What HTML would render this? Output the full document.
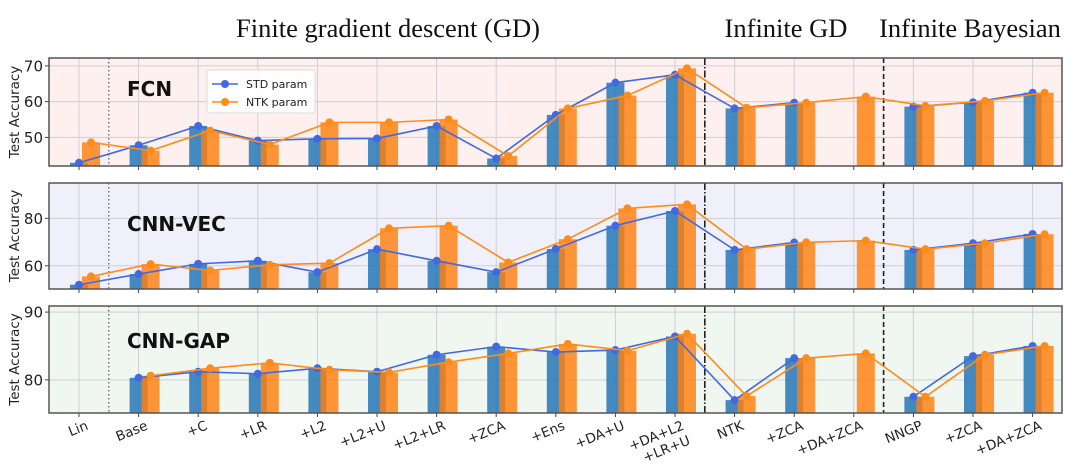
<!DOCTYPE html>
<html><head><meta charset="utf-8">
<style>
body{margin:0;background:#fff;width:1080px;height:466px;overflow:hidden}
svg{font-family:"DejaVu Sans","Liberation Sans",sans-serif}
</style></head>
<body>
<svg id="chart" width="1080" height="466" viewBox="0 0 1080 466" xmlns="http://www.w3.org/2000/svg">
<g font-family="Liberation Serif, serif" font-size="26.5" fill="#111" text-anchor="middle">
<text x="388" y="37">Finite gradient descent (GD)</text>
<text x="786" y="37">Infinite GD</text>
<text x="970" y="37">Infinite Bayesian</text>
</g>
</svg>
<script>
const categories = ["Lin","Base","+C","+LR","+L2","+L2+U","+L2+LR","+ZCA","+Ens","+DA+U","+DA+L2|+LR+U","NTK","+ZCA","+DA+ZCA","NNGP","+ZCA","+DA+ZCA"];
const fcnStd = [42.9,47.8,53.2,49.1,49.6,49.7,53.2,44.1,56.3,65.3,67.5,58.1,59.7,null,58.6,59.8,62.5];
const fcnNtk = [48.6,46.3,51.9,48.0,54.2,54.2,55.0,44.8,58.1,61.7,69.3,58.3,59.7,61.4,58.8,60.2,62.5];
const vecStd = [52.0,56.5,60.8,62.1,57.3,67.0,62.1,57.3,67.1,76.9,83.1,66.7,69.8,null,66.7,69.5,73.4];
const vecNtk = [55.5,60.7,58.0,60.4,61.1,75.8,76.9,61.4,71.2,84.2,85.9,67.0,69.9,70.6,67.0,69.5,73.3];
const gapStd = [null,80.3,81.2,80.9,81.7,81.2,83.7,84.9,84.1,84.4,86.4,77.0,83.2,null,77.5,83.5,85.0];
const gapNtk = [null,80.6,81.7,82.5,81.5,81.1,82.6,83.9,85.3,84.3,86.8,77.6,83.2,83.9,77.5,83.7,85.0];
const fcnTicks = [50,60,70];
const vecTicks = [60,80];
const gapTicks = [80,90];

const NS="http://www.w3.org/2000/svg";
const svg=document.getElementById('chart');
function mk(tag,attrs,parent){const e=document.createElementNS(NS,tag);for(const k in attrs)e.setAttribute(k,attrs[k]);(parent||svg).appendChild(e);return e;}
const X0=49,X1=1062;
function xs(i){return 79+i*59.6;}

const panels=[
 {name:'fcn',label:'FCN',top:58,bot:166,ymin:42,ymax:72.2,bg:'#fdf0ef',std:fcnStd,ntk:fcnNtk,ticks:fcnTicks,ly:96},
 {name:'cnn-vec',label:'CNN-VEC',top:183,bot:289,ymin:50.2,ymax:94.9,bg:'#f0f0fb',std:vecStd,ntk:vecNtk,ticks:vecTicks,ly:231},
 {name:'cnn-gap',label:'CNN-GAP',top:306,bot:413,ymin:75.1,ymax:90.9,bg:'#f0f6f0',std:gapStd,ntk:gapNtk,ticks:gapTicks,ly:348}
];
panels.forEach((p,pi)=>{
 const g=mk('g',{});
 
 
 const ys=v=>p.bot-(v-p.ymin)/(p.ymax-p.ymin)*(p.bot-p.top);
 const bg=mk('rect',{x:X0,y:p.top,width:X1-X0,height:p.bot-p.top,fill:p.bg},g);
 
 
 categories.forEach((c,i)=>{
  const gl=mk('line',{x1:xs(i),x2:xs(i),y1:p.top,y2:p.bot,stroke:'#cfcfd6','stroke-width':1},g);
  
  
  const tk=mk('line',{x1:xs(i),x2:xs(i),y1:p.bot,y2:p.bot+4,stroke:'#444','stroke-width':1},g);
  
  
 });
 p.ticks.forEach(t=>{
  const y=ys(t);
  const gl=mk('line',{x1:X0,x2:X1,y1:y,y2:y,stroke:'#cfcfd6','stroke-width':1},g);
  
  
  mk('line',{x1:X0-4,x2:X0,y1:y,y2:y,stroke:'#444'},g);
  const tl=mk('text',{x:X0-6,y:y+5.5,'text-anchor':'end','font-size':15,fill:'#222'},g);
  tl.textContent=t;
  
  
 });
 [[0.5,'1.5,2.5'],[10.5,'7,2,1.5,2'],[13.5,'5,3']].forEach(s=>{
  const l=mk('line',{x1:xs(s[0]),x2:xs(s[0]),y1:p.top,y2:p.bot,stroke:s[0]===0.5?'#555':'#222','stroke-width':s[0]===0.5?1.2:1.6,'stroke-dasharray':s[1]},g);
  
  
 });
 categories.forEach((c,i)=>{
  if(p.std[i]!=null){
   const y=ys(p.std[i]);
   const b=mk('rect',{x:xs(i)-9,y:y,width:18,height:p.bot-y,fill:'#2b7bba','fill-opacity':0.88},g);
   
   
  }
  if(p.ntk[i]!=null){
   const y=ys(p.ntk[i]);
   const b=mk('rect',{x:xs(i)+3,y:y,width:18,height:p.bot-y,fill:'#ff7f0e','fill-opacity':0.82},g);
   
   
  }
 });
 [[p.std,'#4169e1',0],[p.ntk,'#ff8c1a',12]].forEach((s,si)=>{
  // split into segments at missing values
  const segs=[[]];
  s[0].forEach((v,i)=>{
   if(v==null){if(segs[segs.length-1].length)segs.push([]);}
   else segs[segs.length-1].push([xs(i)+s[2],ys(v)]);
  });
  segs.forEach(pts=>{
   if(pts.length<2)return;
   const pl=mk('polyline',{points:pts.map(q=>q.join(',')).join(' '),fill:'none',stroke:s[1],'stroke-width':1.6},g);
   
   
  });
  segs.forEach(pts=>pts.forEach(q=>{
   const c=mk('circle',{cx:q[0],cy:q[1],r:4,fill:s[1]},g);
   
   
  }));
 });
 const fr=mk('rect',{x:X0,y:p.top,width:X1-X0,height:p.bot-p.top,fill:'none',stroke:'#555','stroke-width':1.5},g);
 
 
 const lab=mk('text',{x:127,y:p.ly,'font-size':20,'font-weight':'bold',fill:'#111'},g);
 lab.textContent=p.label;
 
 
 const yt=mk('text',{x:0,y:0,'font-size':13.5,fill:'#222','text-anchor':'middle',transform:`translate(19,${(p.top+p.bot)/2}) rotate(-90)`},g);
 yt.textContent='Test Accuracy';
 
 
});
const lg=mk('g',{});


mk('rect',{x:207,y:70,width:108,height:43,fill:'#fff','fill-opacity':0.85,stroke:'#ddd',rx:3},lg);
[['STD param','#4169e1',84],['NTK param','#ff8c1a',102]].forEach(e=>{
 const eg=mk('g',{},lg);
 
 
 mk('line',{x1:212,x2:238,y1:e[2],y2:e[2],stroke:e[1],'stroke-width':1.6},eg);
 mk('circle',{cx:225,cy:e[2],r:4,fill:e[1]},eg);
 const t=mk('text',{x:246,y:e[2]+4,'font-size':11,fill:'#222'},eg);
 t.textContent=e[0];
});
categories.forEach((c,i)=>{
 const parts=c.split('|');
 const t=mk('text',{'font-size':13.5,fill:'#222','text-anchor':'end',transform:`translate(${xs(i)+10},${429}) rotate(-22)`});
 
 
 parts.forEach((s,k)=>{const ts=mk('tspan',{x:0,dy:k?16:0},t);ts.textContent=s;});
});
</script>
</body></html>
